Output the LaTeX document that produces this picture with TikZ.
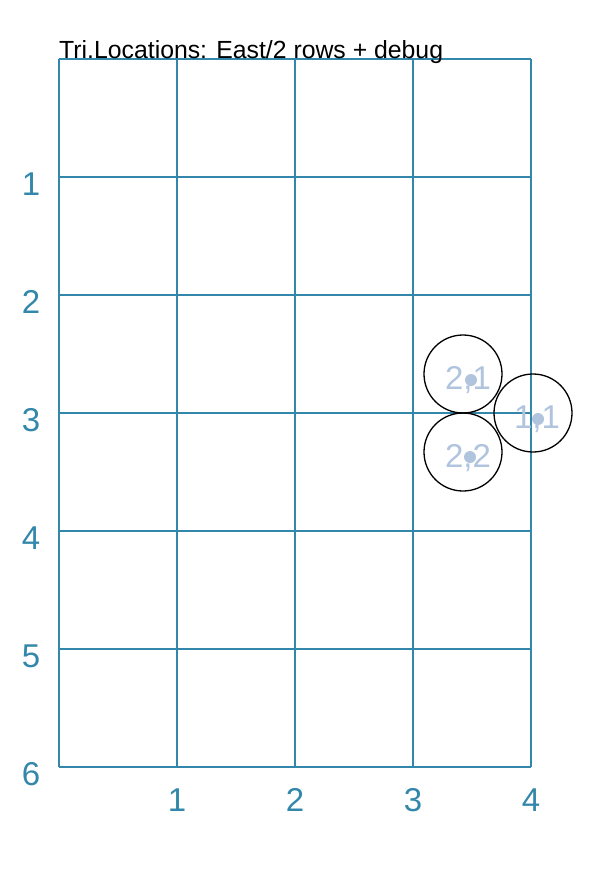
\documentclass[tikz,border=0pt]{standalone}
\usepackage{fontspec}
\setmainfont{Liberation Sans}
\definecolor{gridblue}{RGB}{50,135,170}
\definecolor{lsb}{RGB}{176,196,222}
\begin{document}
\begin{tikzpicture}[x=1pt,y=-1pt,
  gridline/.style={draw=gridblue,line width=1.6pt},
  axlabel/.style={text=gridblue,font=\fontsize{33}{33}\selectfont,inner sep=0pt},
  loc/.style={circle,draw=black,line width=1.3pt,minimum size=78pt,inner sep=0pt},
  dot/.style={circle,fill=lsb,minimum size=12pt,inner sep=0pt},
  loctext/.style={text=lsb,font=\fontsize{33}{33}\selectfont,inner sep=0pt}]
\useasboundingbox (0,0) rectangle (613,875);
\foreach \i in {0,...,4} {\draw[gridline] (59+118*\i,59) -- (59+118*\i,767);}
\foreach \j in {0,...,6} {\draw[gridline] (59,59+118*\j) -- (531,59+118*\j);}
\node[anchor=base west,inner sep=0pt,font=\fontsize{24.8}{24.8}\selectfont] (title) at (59,59) {Tri.Locations: East/2 rows + debug};
\foreach \j in {1,...,6} {\node[axlabel] (l\j) at (31,184+118*\j-118) {\j};}
\foreach \i in {1,...,4} {\node[axlabel] (b\i) at (59+118*\i,800) {\i};}
\node[loc] (c21) at (463,374) {};
\node[loc] (c11) at (533,413) {};
\node[loc] (c22) at (463,452) {};
\node[dot] (d21) at (471,380) {};
\node[dot] (d11) at (538,419) {};
\node[dot] (d22) at (470,457) {};
\node[loctext] (t21) at (468,380) {2,1};
\node[loctext] (t11) at (537,419) {1,1};
\node[loctext] (t22) at (468,458) {2,2};
\end{tikzpicture}
\end{document}
